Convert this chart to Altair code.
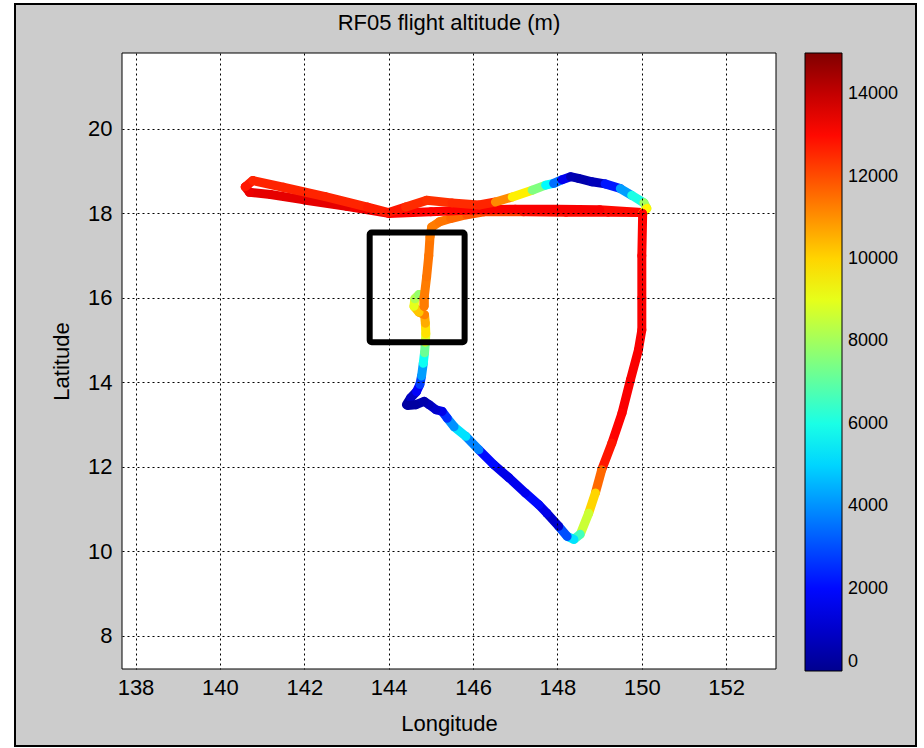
import altair as alt
import pandas as pd

# ---------------- data ----------------
chart_title = "RF05 flight altitude (m)"
x_title = "Longitude"
y_title = "Latitude"
x_ticks = [138, 140, 142, 144, 146, 148, 150, 152]
y_ticks = [8, 10, 12, 14, 16, 18, 20]
cbar_ticks = [0, 2000, 4000, 6000, 8000, 10000, 12000, 14000]
x_domain = [137.68, 153.18]
y_domain = [7.21, 21.8]

# jet colormap stops over 0..15000 m
jet_domain = [0, 1875, 5625, 9375, 13125, 15000]
jet_colors = ["#00008f", "#0000ff", "#00ffff", "#ffff00", "#ff0000", "#800000"]

# flight track: longitude, latitude, altitude (m), in flight order
lon = [
    144.42, 144.52, 144.66, 144.74, 144.78, 144.82, 144.85, 144.87, 144.88, 144.87, 144.85,
    144.72, 144.60, 144.62, 144.72, 144.84, 144.84,
    144.84, 144.90, 144.95, 144.98, 145.02, 145.20, 145.47, 145.85, 146.26,
    147.20, 148.20, 149.20, 150.00,
    149.00, 148.00, 147.00, 146.00, 145.00, 144.00,
    143.00, 142.00, 141.20, 140.70, 140.60, 140.78, 141.50, 142.50, 143.50, 144.00,
    144.40, 144.90, 145.50, 146.14,
    146.53, 146.93, 147.40, 147.72, 147.91, 148.11, 148.31, 148.50, 148.82, 149.13, 149.49, 149.76, 150.05, 150.12,
    150.02, 150.00, 150.00, 150.00, 149.92, 149.73, 149.53, 149.29, 149.05, 148.90, 148.74, 148.54, 148.39,
    148.23, 148.03, 147.75, 147.56, 147.24, 146.85, 146.49, 146.14, 145.83, 145.55, 145.39, 145.27, 145.12,
    144.96, 144.84, 144.64, 144.45,
]
lat = [
    13.47, 13.63, 13.78, 13.95, 14.15, 14.45, 14.70, 14.95, 15.15, 15.40, 15.60,
    15.66, 15.80, 15.98, 16.08, 16.02, 15.80,
    16.00, 16.50, 17.00, 17.45, 17.68, 17.80, 17.88, 17.97, 18.04,
    18.04, 18.03, 18.03, 18.02,
    18.09, 18.10, 18.10, 18.08, 18.04, 18.00,
    18.17, 18.32, 18.45, 18.50, 18.63, 18.78, 18.62, 18.40, 18.15, 18.02,
    18.15, 18.31, 18.25, 18.20,
    18.27, 18.39, 18.55, 18.67, 18.71, 18.80, 18.87, 18.83, 18.75, 18.70, 18.59, 18.43, 18.25, 18.12,
    18.00, 17.00, 16.00, 15.24, 14.77, 14.06, 13.27, 12.56, 11.93, 11.38, 10.90, 10.40, 10.28,
    10.35, 10.59, 10.90, 11.10, 11.38, 11.74, 12.05, 12.40, 12.72, 12.95, 13.15, 13.31, 13.35,
    13.47, 13.55, 13.47, 13.45,
]
altitude = [
    300, 900, 1800, 2800, 4200, 5800, 7200, 8800, 9800, 10600, 11200,
    10200, 9000, 8200, 7800, 11300, 11300,
    11300, 11400, 11400, 11300, 11300, 11400, 11600, 11900, 12200,
    12900, 13000, 13000, 13000,
    13200, 13200, 13200, 13100, 13100, 13300,
    13500, 13500, 13500, 13400, 12800, 12600, 12600, 12600, 12700, 12800,
    12500, 12400, 12500, 12600,
    11100, 9600, 7500, 5600, 3500, 1600, 600, 500, 700, 2200, 4200, 6000, 8000, 9500,
    13100, 13200, 13200, 13200, 13200, 13200, 13100, 12800, 11600, 10000, 8600, 6600, 5200,
    3000, 1000, 1500, 2000, 1600, 1500, 2000, 3800, 5200, 4000, 2500, 1500, 1000,
    700, 500, 300, 300,
]

# highlighted box (degrees)
box_lon = [143.55, 145.80]
box_lat = [14.95, 17.55]

# ---------------- build tables ----------------
rows = []
for i in range(len(lon) - 1):
    rows.append({"lon": lon[i], "lat": lat[i], "lon2": lon[i + 1], "lat2": lat[i + 1],
                 "alt": altitude[i], "order": i})
seg = pd.DataFrame(rows)
box = pd.DataFrame([{"x1": box_lon[0], "x2": box_lon[1], "y1": box_lat[0], "y2": box_lat[1]}])

FONT = "Liberation Sans"
W, H = 654, 616
PAD_L, PAD_T = 122, 53

x_axis = alt.Axis(values=x_ticks, title=x_title, grid=True, ticks=False, domain=False,
                  labelFontSize=22, labelPadding=8, titleFontSize=22, titlePadding=15,
                  zindex=1)
y_axis = alt.Axis(values=y_ticks, title=y_title, grid=True, ticks=False, domain=False,
                  labelFontSize=22, labelPadding=10, titleFontSize=22, titlePadding=14,
                  zindex=1)
x_scale = alt.Scale(domain=x_domain, nice=False, zero=False)
y_scale = alt.Scale(domain=y_domain, nice=False, zero=False)

frame = alt.Chart(alt.Data(values=[{}])).mark_rect(
    fill="#cccccc", stroke="black", strokeWidth=2
).encode(
    x=alt.value(15 - PAD_L), x2=alt.value(916 - PAD_L),
    y=alt.value(4 - PAD_T), y2=alt.value(746 - PAD_T),
)

plot_bg = alt.Chart(alt.Data(values=[{}])).mark_rect(
    fill="white", stroke="black", strokeWidth=1
).encode(
    x=alt.value(0), x2=alt.value(W), y=alt.value(0), y2=alt.value(H),
)

track = alt.Chart(seg).mark_rule(strokeWidth=9, strokeCap="round").encode(
    x=alt.X("lon:Q", scale=x_scale, axis=x_axis),
    y=alt.Y("lat:Q", scale=y_scale, axis=y_axis),
    x2="lon2:Q",
    y2="lat2:Q",
    color=alt.Color(
        "alt:Q",
        scale=alt.Scale(domain=jet_domain, range=jet_colors, interpolate="rgb"),
        legend=alt.Legend(
            title=None, orient="right", offset=29, padding=0, format="d",
            values=cbar_ticks, gradientLength=618, gradientThickness=37,
            gradientStrokeColor="black", gradientStrokeWidth=1,
            labelFontSize=18, labelOffset=6, labelColor="black", labelFont=FONT,
            zindex=1,
        ),
    ),
    order=alt.Order("order:Q"),
)

box_layer = alt.Chart(box).mark_rect(
    fillOpacity=0, stroke="black", strokeWidth=6, cornerRadius=2
).encode(
    x=alt.X("x1:Q", scale=x_scale, axis=x_axis),
    x2="x2:Q",
    y=alt.Y("y1:Q", scale=y_scale, axis=y_axis),
    y2="y2:Q",
)

chart = alt.layer(frame, plot_bg, track, box_layer).properties(
    width=W, height=H,
    title=alt.TitleParams(chart_title, fontSize=22, font=FONT, fontWeight="normal",
                          color="black", anchor="middle", frame="group",
                          baseline="alphabetic", offset=-49, zindex=1),
    autosize=alt.AutoSizeParams(type="none"),
    padding={"left": PAD_L, "top": PAD_T, "right": 924 - PAD_L - W, "bottom": 748 - PAD_T - H},
    background="white",
).configure_view(
    stroke=None
).configure_axis(
    labelFont=FONT, titleFont=FONT, labelColor="black", titleColor="black",
    titleFontWeight="normal", gridColor="black", gridOpacity=1, gridWidth=1,
    gridDash=[2, 3],
)

chart.save("out.html", embed_options={"renderer": "svg", "actions": False})
